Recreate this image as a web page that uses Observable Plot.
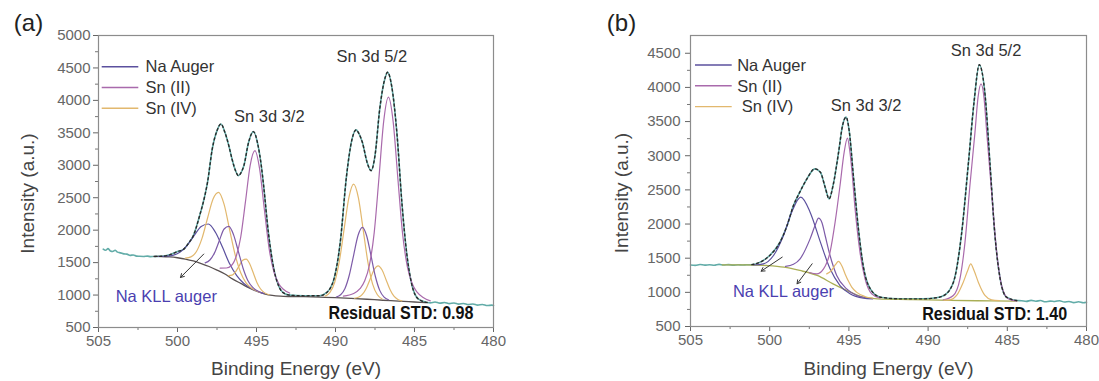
<!DOCTYPE html>
<html><head><meta charset="utf-8">
<script src="https://cdn.jsdelivr.net/npm/d3@7"></script>
<script src="https://cdn.jsdelivr.net/npm/@observablehq/plot@0.6"></script>
<style>
body{margin:0;background:#fff;}
#wrap{position:relative;width:1099px;height:381px;overflow:hidden;background:#fff;}
.panel{position:absolute;top:0;}
</style></head><body><div id="wrap"></div>
<script>
// ---------- shared axis values ----------
const xTicks = [505, 500, 495, 490, 485, 480];
const xMinor = [502.5, 497.5, 492.5, 487.5, 482.5];
const aYTicks = [500, 1000, 1500, 2000, 2500, 3000, 3500, 4000, 4500, 5000];
const aYMinor = [750, 1250, 1750, 2250, 2750, 3250, 3750, 4250, 4750];
const bYTicks = [500, 1000, 1500, 2000, 2500, 3000, 3500, 4000, 4500];
const bYMinor = [750, 1250, 1750, 2250, 2750, 3250, 3750, 4250];
const legendNames = ["Na Auger", "Sn (II)", "Sn (IV)"];
const legendNamesB = ["Na Auger", "Sn (II)", " Sn (IV)"];

// ---------- panel (a) : [binding energy eV, intensity] ----------
const a_dataLeft = [[504.7,1708],[504.55,1690],[504.4,1715],[504.25,1680],[504.1,1672],[503.95,1690],[503.8,1662],[503.6,1650],[503.4,1635],[503.2,1631],[503.0,1612],[502.8,1618],[502.6,1600],[502.4,1597],[502.15,1595],[501.9,1600],[501.7,1592]];
const a_fit = [[501.5,1595],[501.0,1597],[500.5,1620],[500.0,1670],[499.6,1708],[499.3,1800],[499.0,1914],[498.6,2223],[498.3,2500],[498.1,2737],[497.8,3251],[497.5,3534],[497.25,3637],[497.0,3508],[496.75,3300],[496.55,3097],[496.3,2900],[496.15,2840],[495.95,2900],[495.8,2994],[495.5,3354],[495.2,3519],[494.9,3303],[494.7,3000],[494.55,2686],[494.25,1966],[493.9,1400],[493.5,1091],[493.2,1020],[492.9,999],[492.0,988],[491.0,990],[490.55,1040],[490.3,1120],[490.1,1246],[489.7,1811],[489.3,2840],[488.95,3406],[488.7,3545],[488.5,3480],[488.3,3354],[488.0,3046],[487.75,2917],[487.5,3149],[487.2,3869],[486.85,4357],[486.7,4434],[486.45,4229],[486.1,3457],[485.8,2429],[485.5,1657],[485.2,1194],[484.75,937],[484.2,886]];
const a_dataRight = [[484.0,880],[483.7,892],[483.4,875],[483.1,885],[482.8,868],[482.5,878],[482.2,860],[481.9,870],[481.6,852],[481.3,862],[481.0,845],[480.7,855],[480.4,838],[480.1,845],[480.0,840]];
const a_background = [[501.5,1595],[501.0,1594],[500.5,1588],[500.0,1575],[499.5,1555],[499.0,1525],[498.5,1485],[498.0,1440],[497.5,1385],[497.0,1325],[496.5,1245],[496.0,1180],[495.5,1115],[495.0,1060],[494.5,1020],[494.0,995],[493.5,983],[493.0,978],[492.0,975],[491.0,968],[490.0,960],[489.0,948],[488.0,935],[487.0,920],[486.0,908],[485.0,893],[484.3,883]];
const a_naAuger = [[501.2,1594],[500.75,1598],[500.3,1612],[499.85,1658],[499.4,1761],[498.95,1917],[498.5,2058],[498.05,2095],[497.6,1968],[497.15,1735],[496.7,1481],[496.25,1300],[495.8,1179],[495.35,1105],[494.5,1022]];
const a_sn4_32 = [[499.5,1568],[499.15,1588],[498.8,1671],[498.45,1873],[498.1,2184],[497.75,2480],[497.4,2583],[497.05,2397],[496.7,2004],[496.35,1618],[496.0,1343],[495.65,1185],[495.3,1106],[494.8,1045]];
const a_sn4b_32 = [[496.775,1300],[496.55,1308],[496.325,1359],[496.1,1449],[495.875,1535],[495.65,1554],[495.425,1480],[495.2,1339],[494.975,1195],[494.75,1097],[494.525,1041],[494.2,1005]];
const a_sn2b_32 = [[498.25,1496],[497.95,1540],[497.65,1654],[497.35,1841],[497.05,2018],[496.75,2058],[496.45,1928],[496.15,1673],[495.85,1414],[495.55,1225],[495.25,1121],[494.95,1065],[494.6,1028]];
const a_sn2_32 = [[497.3,1415],[496.9,1417],[496.6,1452],[496.3,1586],[496.0,1891],[495.7,2435],[495.4,3000],[495.1,3226],[494.8,2940],[494.5,2314],[494.2,1716],[493.9,1359],[493.6,1179],[493.3,1089],[492.9,1031]];
const a_sn4_52 = [[490.65,984],[490.35,1041],[490.05,1198],[489.75,1530],[489.45,2024],[489.15,2507],[488.85,2711],[488.55,2499],[488.25,2009],[487.95,1508],[487.65,1168],[487.35,1004],[487.05,940]];
const a_sn2b_52 = [[489.95,970],[489.675,1004],[489.4,1102],[489.125,1309],[488.85,1617],[488.575,1917],[488.3,2043],[488.025,1910],[487.75,1602],[487.475,1286],[487.2,1072],[486.925,968],[486.65,928]];
const a_sn4b_52 = [[488.8,951],[488.55,965],[488.3,1009],[488.05,1106],[487.8,1251],[487.55,1393],[487.3,1451],[487.05,1385],[486.8,1237],[486.55,1086],[486.3,982],[486.05,932],[485.8,910]];
const a_sn2_52 = [[489.5,984],[488.85,1024],[488.45,1098],[488.15,1219],[487.85,1466],[487.55,1963],[487.25,2804],[486.95,3676],[486.65,4049],[486.35,3669],[486.05,2789],[485.75,1937],[485.45,1433],[485.15,1178],[484.85,1048],[484.45,964],[484.0,910]];
const a_arrows = [[498.34,1632,499.81,1271]];

// ---------- panel (b) ----------
const b_dataLeft = [[505.0,1400],[504.7,1395],[504.4,1408],[504.1,1398],[503.8,1405],[503.5,1396],[503.2,1410],[502.9,1400],[502.6,1406],[502.3,1398],[502.0,1404],[501.7,1400],[501.45,1405]];
const b_fit = [[501.2,1403],[500.6,1442],[500.0,1539],[499.35,1735],[498.9,1979],[498.5,2271],[498.1,2467],[497.65,2662],[497.15,2808],[496.8,2759],[496.5,2540],[496.25,2369],[496.0,2564],[495.65,3052],[495.4,3443],[495.18,3565],[494.97,3345],[494.72,2711],[494.4,1930],[494.1,1393],[493.65,1051],[493.0,929],[491.8,905],[490.3,905],[489.5,920],[489.0,954],[488.4,1149],[487.9,1832],[487.45,2906],[487.1,3784],[486.77,4331],[486.4,3882],[486.1,2906],[485.78,1832],[485.45,1198],[485.05,929],[484.4,881]];
const b_dataRight = [[484.1,878],[483.8,868],[483.5,882],[483.2,870],[482.9,880],[482.6,862],[482.3,872],[482.0,866],[481.7,878],[481.4,858],[481.1,866],[480.8,850],[480.5,862],[480.2,848],[480.0,855]];
const b_background = [[503.0,1403],[501.5,1403],[500.2,1393],[499.1,1369],[498.1,1320],[497.0,1247],[496.0,1125],[494.9,1003],[494.1,929],[493.2,905],[491.0,895],[488.6,881],[486.0,875],[484.4,871]];
const b_naAuger = [[501.0,1400],[500.4,1417],[499.76,1539],[499.13,1832],[498.6,2180],[498.04,2393],[497.45,2174],[496.8,1735],[496.19,1344],[495.56,1100],[494.93,978],[494.09,915],[493.5,905]];
const b_sn2b_32 = [[499.0,1380],[498.5,1410],[498.08,1491],[497.45,1783],[497.1,2000],[496.92,2086],[496.7,2020],[496.5,1832],[496.19,1539],[495.77,1247],[495.14,1051],[494.5,954],[494.0,925]];
const b_sn2_32 = [[497.5,1290],[497.03,1271],[496.6,1344],[496.19,1588],[495.87,2027],[495.56,2564],[495.3,3050],[495.09,3257],[494.95,3080],[494.82,2808],[494.61,2223],[494.3,1588],[493.98,1198],[493.56,978],[493.03,915]];
const b_sn4_32 = [[496.4,1270],[496.1,1320],[495.85,1405],[495.66,1452],[495.45,1390],[495.24,1270],[495.0,1150],[494.82,1076],[494.5,1000],[494.0,940],[493.5,915]];
const b_sn2_52 = [[489.04,890],[488.41,954],[487.99,1198],[487.67,1735],[487.36,2564],[487.04,3345],[486.85,3850],[486.66,4053],[486.47,3850],[486.3,3345],[485.99,2467],[485.67,1588],[485.36,1100],[484.94,905],[484.41,871]];
const b_sn4_52 = [[489.0,885],[488.62,890],[488.2,954],[487.78,1149],[487.5,1320],[487.31,1417],[487.1,1320],[486.83,1149],[486.41,954],[485.99,890],[485.5,878]];
const b_arrows = [[499.21,1515,500.54,1310],[497.32,1418,498.27,1125]];

// ---------- helpers ----------
const SANS = "Liberation Sans, Arial, sans-serif";
const C = {data:"#62aca8", fit:"#2a2a2a", na:"#5b509e", sn2:"#a96aac", sn2b:"#7d5ba8", sn4:"#e2b86e", bgA:"#5a5252", bgB:"#a9ae55", kll:"#4b3fb0"};
const rows = p => p.map(([e, v]) => ({e, v})).sort((a, b) => a.e - b.e);

function panel(c) {
  const curve = "monotone-x";
  const ln = (arr, stroke, w = 1.1) => Plot.line(rows(arr), {x: "e", y: "v", stroke, strokeWidth: w, curve});
  const txt = (s, o) => Plot.text([s], {text: d => d, fontFamily: SANS, textAnchor: "middle", lineAnchor: "middle", ...o});
  const marks = [
    Plot.axisX(xTicks, {tickSize: 5, tickPadding: 3, fontSize: 15, color: "#666", label: null, tickFormat: d => String(d)}),
    Plot.axisX(xMinor, {tickSize: 3, color: "#777", label: null, tickFormat: () => ""}),
    Plot.axisY(c.yTicks, {tickSize: 5, tickPadding: c.yPad, fontSize: 15, color: "#666", label: null, tickFormat: d => String(d)}),
    Plot.axisY(c.yMinor, {tickSize: 3, color: "#777", label: null, tickFormat: () => ""}),
    ln(c.data, C.data, 1.6),
    ln(c.bg, c.bgColor, 1.3),
    ...c.comps.map(([arr, col]) => ln(arr, col, 1.2)),
    Plot.line(rows(c.fit), {x: "e", y: "v", stroke: C.fit, strokeWidth: 1.4, strokeDasharray: "2,3", curve}),
    Plot.arrow(c.arrows, {x1: d => d[0], y1: d => d[1], x2: d => d[2], y2: d => d[3], stroke: "#333", strokeWidth: 1, headLength: 6}),
    Plot.frame({stroke: "#8c8c8c", strokeWidth: 1.2}),
    txt(c.tag, {frameAnchor: "top-left", dx: c.tagDx, dy: -12, fontSize: 24, fill: "#222"}),
    txt("Intensity (a.u.)", {frameAnchor: "left", rotate: -90, dx: c.ylabDx, dy: 12, fontSize: 19, fill: "#444"}),
    txt("Binding Energy (eV)", {frameAnchor: "bottom", dy: c.xlabDy, fontSize: 19, fill: "#444"}),
    txt("Sn 3d 3/2", {frameAnchor: "top-left", dx: c.p32[0], dy: c.p32[1], fontSize: 16.5, fill: "#333"}),
    txt("Sn 3d 5/2", {frameAnchor: "top-left", dx: c.p52[0], dy: c.p52[1], fontSize: 16.5, fill: "#333"}),
    txt("Na KLL auger", {frameAnchor: "bottom-left", dx: c.kll[0], dy: c.kll[1], fontSize: 16.5, fill: C.kll}),
    txt(c.resid, {frameAnchor: "bottom-left", dx: c.res[0], dy: c.res[1], textAnchor: "start", fontWeight: "bold", fontSize: 18, fill: "#111"}),
    ...c.legend.map((name, i) => txt(name, {frameAnchor: "top-left", textAnchor: "start", dx: c.legX, dy: c.legY + i * 20.8, fontSize: 16.5, fill: "#333"}))
  ];
  const svg = Plot.plot({
    width: 550, height: 381,
    marginLeft: c.ml, marginRight: c.mr, marginTop: 35, marginBottom: c.mb,
    x: {domain: [505, 480], label: null},
    y: {domain: c.yDomain, label: null},
    style: {background: "transparent", fontFamily: SANS, color: "#666", overflow: "visible"},
    marks
  });
  // condense the bold residual label to the reference width
  d3.select(svg).selectAll("text")
    .filter(function () { return this.textContent === c.resid; })
    .attr("textLength", c.resWidth).attr("lengthAdjust", "spacingAndGlyphs");
  // legend swatches
  const g = d3.select(svg).append("g");
  [C.na, C.sn2, C.sn4].forEach((col, i) => {
    g.append("line")
      .attr("x1", c.ml + c.swatch[0]).attr("x2", c.ml + c.swatch[1])
      .attr("y1", 35 + c.legY + i * 20.8).attr("y2", 35 + c.legY + i * 20.8)
      .attr("stroke", col).attr("stroke-width", 1.4);
  });
  svg.classList.add("panel");
  svg.style.left = c.left + "px";
  return svg;
}

const wrap = document.getElementById("wrap");
wrap.appendChild(panel({
  left: 0, ml: 98, mr: 57, mb: 54, yDomain: [500, 5000], yTicks: aYTicks, yMinor: aYMinor, yPad: 3,
  data: [...a_dataLeft, ...a_fit, ...a_dataRight], fit: a_fit, bg: a_background, bgColor: C.bgA,
  comps: [[a_naAuger, C.na], [a_sn4_32, C.sn4], [a_sn4b_32, C.sn4], [a_sn2b_32, C.sn2b], [a_sn2_32, C.sn2],
          [a_sn4_52, C.sn4], [a_sn4b_52, C.sn4], [a_sn2b_52, C.sn2b], [a_sn2_52, C.sn2]],
  arrows: a_arrows, tag: "(a)", tagDx: -70, ylabDx: -71, xlabDy: 41,
  p32: [170.8, 81.7], p52: [273.3, 21.7], kll: [67.8, -30.3], resid: "Residual STD: 0.98", res: [230, -14], resWidth: 145,
  legend: legendNames, legX: 47, legY: 31.7, swatch: [3.7, 40.3]
}));
wrap.appendChild(panel({
  left: 549, ml: 141, mr: 13, mb: 55, yDomain: [500, 4760], yTicks: bYTicks, yMinor: bYMinor, yPad: 5,
  data: [...b_dataLeft, ...b_fit, ...b_dataRight], fit: b_fit, bg: b_background, bgColor: C.bgB,
  comps: [[b_naAuger, C.na], [b_sn2b_32, C.sn2b], [b_sn2_32, C.sn2], [b_sn4_32, C.sn4], [b_sn2_52, C.sn2], [b_sn4_52, C.sn4]],
  arrows: b_arrows, tag: "(b)", tagDx: -69, ylabDx: -69, xlabDy: 42,
  p32: [175.5, 70.7], p52: [295.5, 15], kll: [93, -34.3], resid: "Residual STD: 1.40", res: [231.7, -12.7], resWidth: 145,
  legend: legendNamesB, legX: 46.7, legY: 30, swatch: [5, 41.7]
}));
</script>
</body></html>
